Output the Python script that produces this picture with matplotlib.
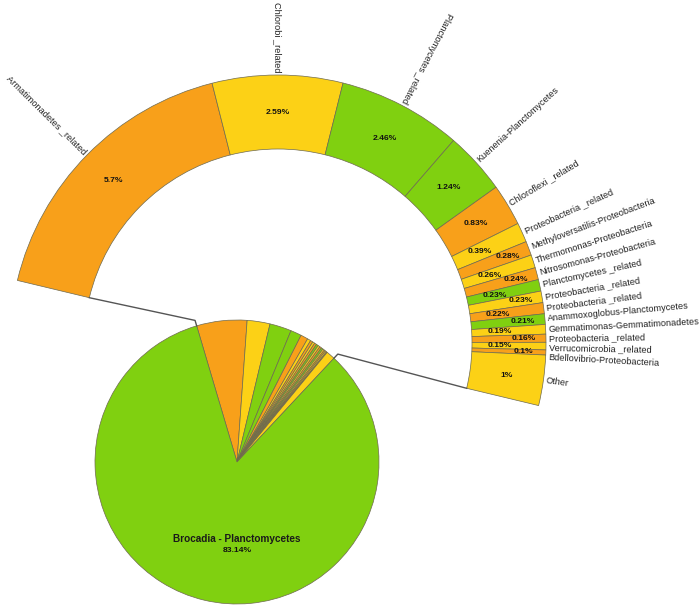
import numpy as np
import matplotlib
matplotlib.use('Agg')
import matplotlib.pyplot as plt

names = ['Armatimonadetes _related', 'Chlorobi _related', 'Planctomycetes _related',
         'Kuenenia-Planctomycetes', 'Chloroflexi _related', 'Proteobacteria _related',
         'Methyloversatilis-Proteobacteria', 'Thermomonas-Proteobacteria',
         'Nitrosomonas-Proteobacteria', 'Planctomycetes _related', 'Proteobacteria _related',
         'Proteobacteria _related', 'Anammoxoglobus-Planctomycetes',
         'Gemmatimonas-Gemmatimonadetes', 'Proteobacteria _related',
         'Verrucomicrobia _related', 'Bdellovibrio-Proteobacteria', 'Other']
values = [5.7, 2.59, 2.46, 1.24, 0.83, 0.39, 0.28, 0.26, 0.24, 0.23, 0.23, 0.22,
          0.21, 0.19, 0.16, 0.15, 0.1, 1]
main_name = 'Brocadia - Planctomycetes'
main_value = 83.14

green, orange, yellow = '#80d010', '#f8a01a', '#fcd116'
ring_colors = [orange, yellow, green, green, orange, yellow, orange, yellow, orange,
               green, yellow, orange, green, yellow, orange, yellow, orange, yellow]

W, H = 700, 609
fig = plt.figure(figsize=(7, 6.09), dpi=100)
ax = fig.add_axes([0, 0, 1, 1])

pie_c = (237, 147)
pie_r = 142
ring_c = (278, 266)
ring_r = 268
ring_w = 74
edge = dict(edgecolor='#6e6a50', linewidth=0.5)

# main pie
pie_wedges, _ = ax.pie(values + [main_value], colors=ring_colors + [green],
                       startangle=106.5, counterclock=False, center=pie_c,
                       radius=pie_r, wedgeprops=edge)

# half ring with the small slices blown up
ring_wedges, _ = ax.pie(values + [sum(values)], colors=ring_colors + ['white'],
                        startangle=166.5, counterclock=False, center=ring_c,
                        radius=ring_r, wedgeprops=dict(width=ring_w, **edge))
ring_wedges[-1].set_visible(False)

fams = ['Liberation Sans', 'DejaVu Sans']
lab_font = dict(family=fams, fontsize=6.6, color='#222222')
pct_font = dict(family=fams, fontsize=6.1, fontweight='bold', color='#111111')

# label angles: slice middles, pushed apart a little where they crowd
mids = [(w.theta1 + w.theta2) / 2 for w in ring_wedges[:-1]]
lab_ang = list(mids)
for i in range(1, len(lab_ang)):
    if lab_ang[i - 1] < 50 and lab_ang[i - 1] - lab_ang[i] < 2.0:
        lab_ang[i] = lab_ang[i - 1] - 2.0

k = 0
for i, mid in enumerate(mids):
    la = lab_ang[i]
    a = np.deg2rad(la)
    x = ring_c[0] + (ring_r + 3) * np.cos(a)
    y = ring_c[1] + (ring_r + 3) * np.sin(a)
    if la > 50:
        ax.text(x, y, names[i], rotation=la - 180, rotation_mode='anchor',
                ha='right', va='center', **lab_font)
    else:
        ax.text(x, y, names[i], rotation=la, rotation_mode='anchor',
                ha='left', va='center', **lab_font)

    a = np.deg2rad(mid)
    if values[i] >= 0.5:
        r = ring_r - ring_w / 2
    else:
        r = ring_r - 46 if k % 2 == 0 else ring_r - 22
        k += 1
    ax.text(ring_c[0] + r * np.cos(a), ring_c[1] + r * np.sin(a),
            f'{values[i]:g}%', ha='center', va='center', **pct_font)

ax.text(pie_c[0], pie_c[1] - 77, main_name, ha='center', va='center',
        family=fams, fontsize=7.2, fontweight='bold', color='#1a1a1a')
ax.text(pie_c[0], pie_c[1] - 89, f'{main_value:g}%', ha='center', va='center', **pct_font)

# connector lines
ri = ring_r - ring_w
for ring_ang, pie_ang in [(ring_wedges[0].theta2, pie_wedges[0].theta2),
                          (ring_wedges[-2].theta1, pie_wedges[len(values) - 1].theta1)]:
    ra, pa = np.deg2rad(ring_ang), np.deg2rad(pie_ang)
    xs = [ring_c[0] + ri * np.cos(ra), pie_c[0] + pie_r * 1.04 * np.cos(pa),
          pie_c[0] + pie_r * np.cos(pa)]
    ys = [ring_c[1] + ri * np.sin(ra), pie_c[1] + pie_r * 1.04 * np.sin(pa),
          pie_c[1] + pie_r * np.sin(pa)]
    ax.plot(xs, ys, color='#555555', lw=1)

ax.set_xlim(0, W)
ax.set_ylim(0, H)
ax.set_aspect('equal')
ax.axis('off')
fig.savefig('out.png', dpi=100)
